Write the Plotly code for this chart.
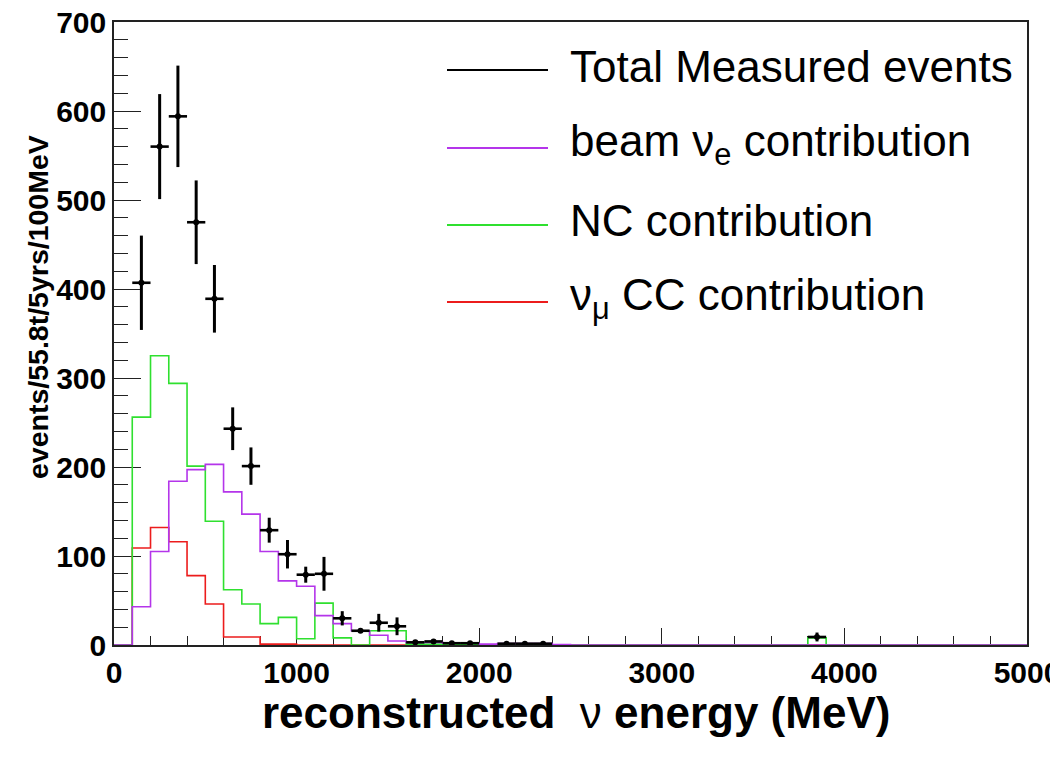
import plotly.graph_objects as go

# 100 MeV bins from 0 to 5000 MeV (lower edges)
BIN_WIDTH = 100
bin_edges = list(range(0, 5001, BIN_WIDTH))

# Event counts per bin (50 bins)
nc_counts = [0, 256, 325, 294, 201, 139, 62, 46, 24, 31,
             7, 47, 8, 0, 16, 16, 1, 1, 0.5, 0.5,
             0, 0, 0, 0, 0, 0, 0, 0, 0, 0,
             0, 0, 0, 0, 0, 0, 0, 0, 8, 0,
             0, 0, 0, 0, 0, 0, 0, 0, 0, 0]
beam_nue_counts = [0, 43, 105, 184, 197, 203, 172, 147, 105, 72,
                   66, 33, 24, 16, 11, 4.5, 3, 3, 2, 2,
                   1, 1.5, 1.5, 1.5, 0.5, 0, 0, 0, 0, 0,
                   0, 0, 0, 0, 0, 0, 0, 0, 0, 0,
                   0, 0, 0, 0, 0, 0, 0, 0, 0, 0]
numu_cc_counts = [0, 109, 132, 116, 78, 46, 9, 9, 1, 1,
                  0, 0, 0, 0, 0, 0, 0, 0, 0, 0,
                  0, 0, 0, 0, 0, 0, 0, 0, 0, 0,
                  0, 0, 0, 0, 0, 0, 0, 0, 0, 0,
                  0, 0, 0, 0, 0, 0, 0, 0, 0, 0]

# Total measured events (bin centres, counts, errors)
total_energy = [150, 250, 350, 450, 550, 650, 750, 850, 950, 1050,
                1150, 1250, 1350, 1450, 1550, 1650, 1750, 1850, 1950,
                2150, 2250, 2350, 3850]
total_counts = [407, 560, 594, 475, 389, 243, 201, 129, 102, 79,
                80, 30, 16, 25, 21, 3, 4, 2, 2,
                1.5, 1.5, 1.5, 9]
total_errors = [53, 59, 57, 47, 38, 24, 21, 14, 16, 9,
                19, 8, 1, 10, 10, 1, 1, 1, 1,
                1, 1, 1, 5]

legend_labels = ["Total Measured events", "beam ν<sub>e</sub> contribution",
                 "NC contribution", "ν<sub>μ</sub> CC contribution"]

BLACK = "#000000"
VIOLET = "#b435ea"
GREEN = "#2fe02f"
RED = "#ec1c1c"

fig = go.Figure()


def step_trace(counts, color):
    return go.Scatter(x=bin_edges, y=counts + [counts[-1]], mode="lines",
                      line=dict(color=color, width=1.6, shape="hv"),
                      hoverinfo="skip", showlegend=False)


fig.add_trace(step_trace(numu_cc_counts, RED))
fig.add_trace(step_trace(nc_counts, GREEN))
fig.add_trace(step_trace(beam_nue_counts, VIOLET))

fig.add_trace(go.Scatter(
    x=total_energy, y=total_counts, mode="markers",
    marker=dict(size=0, color=BLACK),
    error_y=dict(type="data", array=total_errors, color=BLACK, thickness=3, width=0),
    error_x=dict(type="constant", value=BIN_WIDTH / 2, color=BLACK, thickness=2.6, width=0),
    showlegend=False))

# Legend drawn as line samples plus text
leg_y = [70, 148, 225, 302]
leg_colors = [BLACK, VIOLET, GREEN, RED]
H_PLOT_TOP, H_PLOT_BOT = 22, 645
X_LEFT, X_RIGHT = 114, 1027


def px_to_paper_x(px):
    return (px - X_LEFT) / (X_RIGHT - X_LEFT)


def px_to_paper_y(py):
    return (H_PLOT_BOT - py) / (H_PLOT_BOT - H_PLOT_TOP)


for y, c, lab in zip(leg_y, leg_colors, legend_labels):
    fig.add_shape(type="line", xref="paper", yref="paper",
                  x0=px_to_paper_x(447), x1=px_to_paper_x(548),
                  y0=px_to_paper_y(y), y1=px_to_paper_y(y),
                  line=dict(color=c, width=2.2))
    fig.add_annotation(xref="paper", yref="paper", x=px_to_paper_x(568),
                       y=px_to_paper_y(y - 4), text=lab, showarrow=False,
                       xanchor="left", yanchor="middle",
                       font=dict(family="Liberation Sans", size=44, color=BLACK))

# Axis titles
fig.add_annotation(xref="paper", yref="paper", x=px_to_paper_x(576), y=px_to_paper_y(712),
                   text="<b>reconstructed</b>  ν <b>energy (MeV)</b>", showarrow=False,
                   xanchor="center", yanchor="middle",
                   font=dict(family="Liberation Sans", size=44, color=BLACK))
fig.add_annotation(xref="paper", yref="paper", x=px_to_paper_x(38), y=px_to_paper_y(307),
                   text="<b>events/55.8t/5yrs/100MeV</b>", showarrow=False, textangle=-90,
                   xanchor="center", yanchor="middle",
                   font=dict(family="Liberation Sans", size=28.5, color=BLACK))

tick_font = dict(family="Liberation Sans", size=30, color=BLACK, weight="bold")

fig.update_xaxes(range=[0, 5000], tickvals=[0, 1000, 2000, 3000, 4000, 5000],
                 ticks="inside", ticklen=17, tickwidth=1.3, tickcolor="#222",
                 minor=dict(dtick=200, ticks="inside", ticklen=9, tickwidth=1.3, tickcolor="#222"),
                 showline=True, linecolor="#222", linewidth=1.5, mirror=True,
                 showgrid=False, zeroline=False, tickfont=tick_font, layer="below traces",
                 ticklabeloverflow="allow", automargin=False)
fig.update_yaxes(range=[0, 700], tickvals=[0, 100, 200, 300, 400, 500, 600, 700],
                 ticks="inside", ticklen=27, tickwidth=1.3, tickcolor="#222",
                 minor=dict(dtick=20, ticks="inside", ticklen=14, tickwidth=1.3, tickcolor="#222"),
                 showline=True, linecolor="#222", linewidth=1.5, mirror=True,
                 showgrid=False, zeroline=False, tickfont=tick_font, layer="below traces",
                 ticklabeloverflow="allow", automargin=False)

fig.update_layout(width=1050, height=759, plot_bgcolor="white", paper_bgcolor="white",
                  margin=dict(l=114, r=23, t=22, b=114, autoexpand=False), showlegend=False)

fig.write_html("out.html")
